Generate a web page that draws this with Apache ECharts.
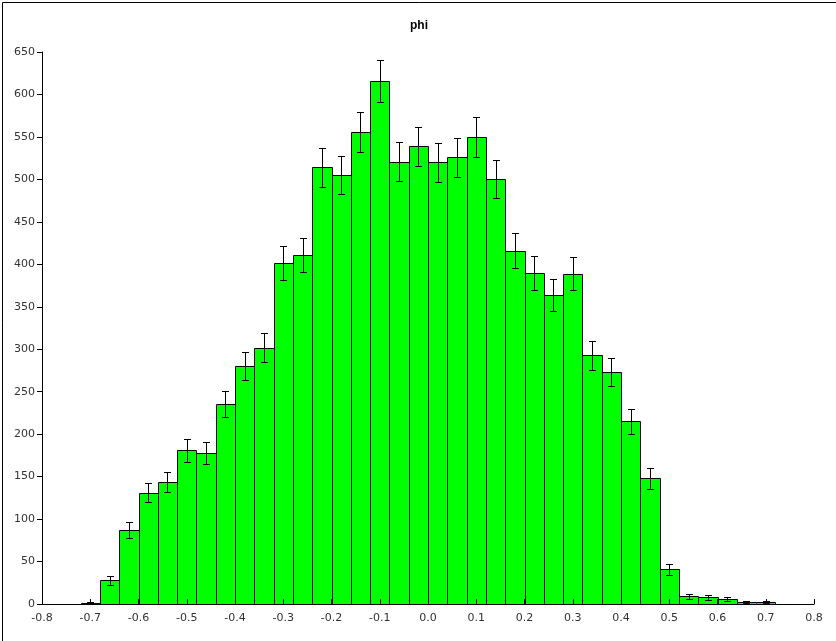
<!DOCTYPE html>
<html>
<head>
<meta charset="utf-8">
<script src="https://cdn.jsdelivr.net/npm/echarts@6/dist/echarts.min.js"></script>
<style>
html,body{margin:0;padding:0;background:#fff;}
#chart{width:836px;height:641px;}
</style>
</head>
<body>
<div id="chart"></div>
<script>
// Histogram of phi: bin lower edges (bin width 0.04), counts and error bars
var binWidth = 0.04;
var binStarts = [-0.72,-0.68,-0.64,-0.60,-0.56,-0.52,-0.48,-0.44,-0.40,-0.36,-0.32,-0.28,-0.24,-0.20,-0.16,-0.12,-0.08,-0.04,
                 0.00,0.04,0.08,0.12,0.16,0.20,0.24,0.28,0.32,0.36,0.40,0.44,0.48,0.52,0.56,0.60,0.64,0.68];
var counts = [1,28,87,131,144,181,178,236,280,302,402,411,514,505,556,616,521,539,
              520,526,550,501,416,390,364,389,293,273,215,148,41,9,8,6,2,2];
var errors = [1,5.3,9.3,11.4,12,13.5,13.3,15.4,16.7,17.4,20,20.3,22.7,22.5,23.6,24.8,22.8,23.2,
              22.8,22.9,23.5,22.4,20.4,19.7,19.1,19.7,17.1,16.5,14.7,12.2,6.4,3,2.8,2.4,1.4,1.4];
var xTicks = [-0.8,-0.7,-0.6,-0.5,-0.4,-0.3,-0.2,-0.1,0.0,0.1,0.2,0.3,0.4,0.5,0.6,0.7,0.8];
var yTicks = [0,50,100,150,200,250,300,350,400,450,500,550,600,650];

var data = binStarts.map(function(s,i){ return [s, s+binWidth, counts[i], errors[i]]; });

var chart = echarts.init(document.getElementById('chart'), null, {renderer:'canvas'});
var labelFont = {color:'#333', fontSize:11, fontFamily:'DejaVu Sans'};
chart.setOption({
  animation:false,
  backgroundColor:'#fff',
  title:{text:'phi', left:414, top:15, textAlign:'center',
    textStyle:{fontSize:12, fontWeight:'bold', color:'#000', fontFamily:'Liberation Sans'}},
  grid:{left:42, right:22, top:52, bottom:37},
  xAxis:{type:'value', min:xTicks[0], max:xTicks[xTicks.length-1], interval:0.1, z:10,
    axisLine:{show:true, onZero:false, lineStyle:{color:'#000', width:1}},
    axisTick:{show:true, inside:true, length:5, lineStyle:{color:'#000'}},
    splitLine:{show:false},
    axisLabel:Object.assign({margin:9, formatter:function(v){ return Math.abs(v)<1e-9 ? '0.0' : v.toFixed(1); }}, labelFont)
  },
  yAxis:{type:'value', min:yTicks[0], max:yTicks[yTicks.length-1], interval:50, z:10,
    axisLine:{show:true, onZero:false, lineStyle:{color:'#000', width:1}},
    axisTick:{show:true, inside:false, length:5, lineStyle:{color:'#000'}},
    splitLine:{show:false},
    axisLabel:Object.assign({margin:7}, labelFont)
  },
  graphic:[{type:'rect', left:0, top:0, z:100, silent:true,
    shape:{x:0.5, y:0.5, width:835, height:640},
    style:{fill:null, stroke:'#000', lineWidth:1}}],
  series:[{
    type:'custom',
    z:2,
    data:data,
    encode:{x:[0,1], y:2},
    renderItem:function(params, api){
      var lo = api.value(0), hi = api.value(1), v = api.value(2), e = api.value(3);
      var p0 = api.coord([lo, 0]), p1 = api.coord([hi, v]);
      var x0 = Math.round(p0[0])+0.5, x1 = Math.round(p1[0])+0.5;
      var yb = Math.round(p0[1])+0.5, yt = Math.round(p1[1])+0.5;
      var cx = Math.round((p0[0]+p1[0])/2)+0.5;
      var eTop = Math.round(api.coord([lo, v+e])[1])+0.5;
      var eBot = Math.round(api.coord([lo, Math.max(0, v-e)])[1])+0.5;
      var ls = {stroke:'#000', lineWidth:1};
      return {type:'group', children:[
        {type:'rect', shape:{x:x0, y:yt, width:x1-x0, height:yb-yt}, style:{fill:'#00ff00', stroke:'#000', lineWidth:1}},
        {type:'line', shape:{x1:cx, y1:eTop, x2:cx, y2:eBot}, style:ls},
        {type:'line', shape:{x1:cx-3.5, y1:eTop, x2:cx+3.5, y2:eTop}, style:ls},
        {type:'line', shape:{x1:cx-3.5, y1:eBot, x2:cx+3.5, y2:eBot}, style:ls}
      ]};
    }
  }]
});
</script>
</body>
</html>
